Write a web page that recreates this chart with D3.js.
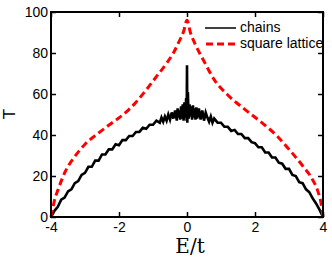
<!DOCTYPE html>
<html>
<head>
<meta charset="utf-8">
<script src="https://cdn.jsdelivr.net/npm/d3@7"></script>
<style>
  body { margin: 0; background: #fff; }
  svg { display: block; font-family: 'Liberation Sans', Arial, sans-serif; }
</style>
</head>
<body>
<svg width="332" height="260"></svg>
<script>
// chains: noisy transmission
var chainE = [-4.0, -3.9, -3.8, -3.7, -3.6, -3.5, -3.4, -3.3, -3.2, -3.1, -3.0, -2.9, -2.8, -2.7, -2.6, -2.5, -2.4, -2.3, -2.2, -2.1,
  -2.0, -1.9, -1.8, -1.7, -1.6, -1.5, -1.4, -1.3, -1.2, -1.1, -1.0, -0.9, -0.8, -0.75, -0.7, -0.65, -0.6,
  -0.55, -0.5, -0.45, -0.4, -0.35, -0.3, -0.275, -0.25, -0.225, -0.2, -0.175, -0.15, -0.125, -0.1, -0.075, -0.05, -0.025, -0.01, 0,
  0.01, 0.025, 0.05, 0.075, 0.1, 0.125, 0.15, 0.175, 0.2, 0.225, 0.25, 0.275, 0.3, 0.35, 0.4, 0.45, 0.5, 0.55,
  0.6, 0.65, 0.7, 0.75, 0.8, 0.9, 1.0, 1.1, 1.2, 1.3, 1.4, 1.5, 1.6, 1.7, 1.8, 1.9, 2.0, 2.1, 2.2, 2.3, 2.4, 2.5,
  2.6, 2.7, 2.8, 2.9, 3.0, 3.1, 3.2, 3.3, 3.4, 3.5, 3.6, 3.7, 3.8, 3.9, 4.0];
var chainT = [0, 3, 5, 8.5, 9.5, 12.5, 13.5, 16.5, 17.5, 20.5, 21.5, 24.5, 24.5, 27.5, 27.5, 30.5, 30.5, 33, 33, 35.5,
  35, 37.5, 37.5, 39.5, 39.5, 41.5, 41.5, 43.5, 43, 45, 45, 47, 46, 48.5, 46.5, 49, 47,
  50, 47.5, 51, 48, 52, 47, 53, 48.5, 52, 47.5, 54, 48, 55, 47, 56, 48.5, 58, 47, 74,
  46, 61, 48, 55, 49, 54, 47.5, 54.5, 48.5, 53, 47.5, 53.5, 48, 53, 47.5, 52, 47, 51,
  48.5, 46.5, 49, 46, 48, 46, 46, 44, 44, 42, 42.5, 40.5, 40.5, 38.5, 38.5, 36.5, 36, 34, 34, 31.5, 31.5, 29,
  29, 26.5, 26, 23.5, 23.5, 20.5, 20, 17, 16.5, 13.5, 12, 9, 6.5, 3.5, 0];

// square lattice
var squareE = [-4, -3.95, -3.9, -3.8, -3.7, -3.6, -3.45, -3.3, -3.0, -2.6, -2.2, -1.8, -1.5, -1.2, -0.9, -0.6, -0.4, -0.25, -0.1, 0,
  0.1, 0.25, 0.5, 0.8, 1.2, 1.7, 2.2, 2.65, 3.0, 3.4, 3.7, 3.85, 3.95, 4];
var squareT = [0, 4, 8, 13, 17.5, 21.5, 26, 29.5, 35.5, 41, 46, 51, 56, 62, 68.5, 75, 80, 85, 90.5, 96,
  90, 84, 76, 67, 59.5, 52.5, 46, 39.5, 33, 25, 18, 12.5, 6, 0];

var xTicks = [-4, -2, 0, 2, 4];
var yTicks = [0, 20, 40, 60, 80, 100];
var seriesNames = ['chains', 'square lattice'];

var mLeft = 51, mRight = 323, mTop = 12, mBottom = 217;

var svg = d3.select('svg');

var x = d3.scaleLinear().domain([-4, 4]).range([mLeft, mRight]);
var y = d3.scaleLinear().domain([0, 100]).range([mBottom, mTop]);

var chains = chainE.map(function(e, i) { return [e, chainT[i]]; });
var square = squareE.map(function(e, i) { return [e, squareT[i]]; });

var line = d3.line()
  .x(function(d) { return x(d[0]); })
  .y(function(d) { return y(d[1]); });

svg.append('path')
  .datum(chains)
  .attr('d', line)
  .attr('fill', 'none')
  .attr('stroke', '#000')
  .attr('stroke-width', 2.6)
  .attr('stroke-linejoin', 'miter');

svg.append('path')
  .datum(square)
  .attr('d', line.curve(d3.curveMonotoneX))
  .attr('fill', 'none')
  .attr('stroke', '#ff0000')
  .attr('stroke-width', 3)
  .attr('stroke-dasharray', '7,4');

// axes, ticks pointing inward
function styleAxis(g) {
  g.select('.domain').remove();
  g.selectAll('.tick line').attr('stroke', '#000').attr('stroke-width', 1.5);
  g.selectAll('.tick text').attr('fill', '#000').style('font-size', '14px');
}
var plain = function(d) { return String(d); };

svg.append('g')
  .attr('transform', 'translate(0,' + mBottom + ')')
  .call(d3.axisBottom(x).tickValues(xTicks).tickSize(-5).tickPadding(5).tickFormat(plain))
  .call(styleAxis);

svg.append('g')
  .attr('transform', 'translate(0,' + mTop + ')')
  .call(d3.axisTop(x).tickValues(xTicks).tickSize(-5).tickFormat(''))
  .call(styleAxis);

svg.append('g')
  .attr('transform', 'translate(' + mLeft + ',0)')
  .call(d3.axisLeft(y).tickValues(yTicks).tickSize(-5).tickPadding(3).tickFormat(plain))
  .call(styleAxis);

svg.append('g')
  .attr('transform', 'translate(' + mRight + ',0)')
  .call(d3.axisRight(y).tickValues(yTicks).tickSize(-5).tickFormat(''))
  .call(styleAxis);

svg.append('rect')
  .attr('x', mLeft).attr('y', mTop)
  .attr('width', mRight - mLeft).attr('height', mBottom - mTop)
  .attr('fill', 'none')
  .attr('stroke', '#000')
  .attr('stroke-width', 2);

// axis titles
svg.append('text')
  .attr('x', 190).attr('y', 253)
  .attr('text-anchor', 'middle')
  .style('font-family', "'DejaVu Serif', 'Liberation Serif', serif")
  .style('font-size', '20px')
  .text('E/t');

svg.append('text')
  .attr('transform', 'translate(15,114) rotate(-90)')
  .attr('text-anchor', 'middle')
  .style('font-size', '17px')
  .text('T');

// legend
var legend = svg.append('g');
legend.append('line')
  .attr('x1', 205).attr('x2', 236).attr('y1', 28).attr('y2', 28)
  .attr('stroke', '#000').attr('stroke-width', 1.5);
legend.append('line')
  .attr('x1', 206).attr('x2', 236).attr('y1', 44).attr('y2', 44)
  .attr('stroke', '#ff0000').attr('stroke-width', 3)
  .attr('stroke-dasharray', '7,4');
legend.selectAll('text.lab')
  .data(seriesNames)
  .enter().append('text')
  .attr('class', 'lab')
  .attr('x', 240)
  .attr('y', function(d, i) { return 32 + i * 16; })
  .style('font-size', '14px')
  .text(function(d) { return d; });
</script>
</body>
</html>
